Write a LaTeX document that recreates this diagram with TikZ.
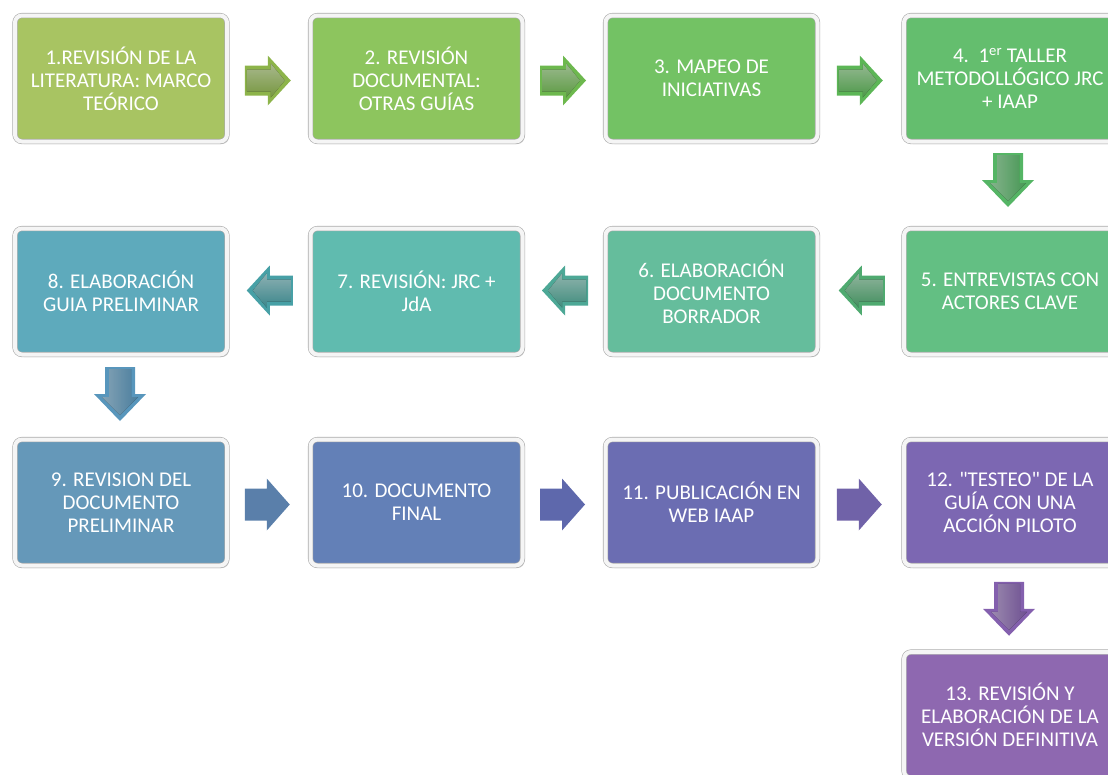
\documentclass[tikz,border=0pt]{standalone}
\usepackage{fontspec}
\setmainfont{Carlito}[Ligatures=TeXOff]
\usetikzlibrary{shadows,calc}
\definecolor{c1}{HTML}{A8C462}
\definecolor{c2}{HTML}{8DC55E}
\definecolor{c3}{HTML}{73C264}
\definecolor{c4}{HTML}{64BE6E}
\definecolor{c5}{HTML}{63BF83}
\definecolor{c6}{HTML}{65BD9C}
\definecolor{c7}{HTML}{60BBAF}
\definecolor{c8}{HTML}{5EAABC}
\definecolor{c9}{HTML}{6598B9}
\definecolor{c10}{HTML}{6380B7}
\definecolor{c11}{HTML}{6B6DB2}
\definecolor{c12}{HTML}{7C67B2}
\definecolor{c13}{HTML}{8E68B0}
\definecolor{a1}{HTML}{8DB44A}
\definecolor{a2}{HTML}{6DB84E}
\definecolor{a3}{HTML}{5CB656}
\definecolor{a4}{HTML}{55B565}
\definecolor{a5}{HTML}{4FAA70}
\definecolor{a6}{HTML}{4DA896}
\definecolor{a7}{HTML}{47A0A6}
\definecolor{a8}{HTML}{5896BC}
\definecolor{a9}{HTML}{5A7FAA}
\definecolor{a10}{HTML}{5E68AC}
\definecolor{a11}{HTML}{7062A8}
\definecolor{a12}{HTML}{8460AE}
\tikzset{
  stepbox/.style={rectangle, rounded corners=7pt, minimum width=212pt, minimum height=126pt,
    inner sep=0pt, align=center, text=white, font=\fontsize{21}{23}\selectfont,
    fill=#1, draw=gray!65, double=gray!8, double distance=4pt, line width=0.6pt,
    drop shadow={shadow xshift=2pt, shadow yshift=-2.5pt, opacity=0.35}},
  pics/rarr/.style 2 args={code={
    \fill[#1] (-23,-15) -- (0,-15) -- (0,-25) -- (23,0) -- (0,25) -- (0,15) -- (-23,15) -- cycle;
    \fill[top color=#1!45!white, bottom color=#1, opacity=#2]
      (-21,-11) -- (3,-11) -- (3,-17) -- (17,0) -- (3,17) -- (3,11) -- (-21,11) -- cycle;
  }},
  pics/larr/.style 2 args={code={
    \fill[#1] (23,-15) -- (0,-15) -- (0,-25) -- (-23,0) -- (0,25) -- (0,15) -- (23,15) -- cycle;
    \fill[top color=#1!45!white, bottom color=#1, opacity=#2]
      (21,-11) -- (-3,-11) -- (-3,-17) -- (-17,0) -- (-3,17) -- (-3,11) -- (21,11) -- cycle;
  }},
  pics/darr/.style 2 args={code={
    \fill[#1] (-15,-27) -- (-15,0) -- (-26,0) -- (0,27) -- (26,0) -- (15,0) -- (15,-27) -- cycle;
    \fill[left color=#1!55!white, right color=#1, opacity=#2]
      (-11,-25) -- (-11,3) -- (-18,3) -- (0,21) -- (18,3) -- (11,3) -- (11,-25) -- cycle;
  }},
  pics/rflat/.style={code={
    \fill[#1] (-22,-16) -- (0,-16) -- (0,-26) -- (23,0) -- (0,26) -- (0,16) -- (-22,16) -- cycle;
  }}
}
\begin{document}
\begin{tikzpicture}[x=1pt,y=-1pt]
\useasboundingbox (0,0) rectangle (1108,774);
\clip (0,0) rectangle (1108,774);
% row 1
\node[stepbox=c1] (b1) at (121,78.5) {1.REVISIÓN DE LA\\LITERATURA: MARCO\\TEÓRICO};
\node[stepbox=c2] (b2) at (416.5,78.5) {2. REVISIÓN\\DOCUMENTAL:\\OTRAS GUÍAS};
\node[stepbox=c3] (b3) at (711.5,78.5) {3. MAPEO DE\\INICIATIVAS};
\node[stepbox=c4] (b4) at (1010,78.5) {4.\ \ 1\textsuperscript{er} TALLER\\METODOLLÓGICO JRC\\+ IAAP};
% row 2
\node[stepbox=c5] (b5) at (1010,291.5) {5. ENTREVISTAS CON\\ACTORES CLAVE};
\node[stepbox=c6] (b6) at (711.5,291.5) {6. ELABORACIÓN\\DOCUMENTO\\BORRADOR};
\node[stepbox=c7] (b7) at (416.5,291.5) {7. REVISIÓN: JRC +\\JdA};
\node[stepbox=c8] (b8) at (121,291.5) {8. ELABORACIÓN\\GUIA PRELIMINAR};
% row 3
\node[stepbox=c9] (b9) at (121,502.5) {9. REVISION DEL\\DOCUMENTO\\PRELIMINAR};
\node[stepbox=c10] (b10) at (416.5,502.5) {10. DOCUMENTO\\FINAL};
\node[stepbox=c11] (b11) at (711.5,502.5) {11. PUBLICACIÓN EN\\WEB IAAP};
\node[stepbox=c12] (b12) at (1010,502.5) {12. "TESTEO" DE LA\\GUÍA CON UNA\\ACCIÓN PILOTO};
\node[stepbox=c13] (b13) at (1010,715) {13. REVISIÓN Y\\ELABORACIÓN DE LA\\VERSIÓN DEFINITIVA};
% arrows
\pic at ($(b1.east)!0.5!(b2.west)+(-1,2)$) {rarr={a1}{0.8}};
\pic at ($(b2.east)!0.5!(b3.west)+(-1,2)$) {rarr={a2}{0.8}};
\pic at ($(b3.east)!0.5!(b4.west)+(-1,2)$) {rarr={a3}{0.8}};
\pic at ($(b4.south)!0.5!(b5.north)+(-2,-5)$) {darr={a4}{0.8}};
\pic at ($(b5.west)!0.5!(b6.east)+(1,-1)$) {larr={a5}{0.8}};
\pic at ($(b6.west)!0.5!(b7.east)+(1,-1)$) {larr={a6}{0.8}};
\pic at ($(b7.west)!0.5!(b8.east)+(1,-1)$) {larr={a7}{0.8}};
\pic at ($(b8.south)!0.5!(b9.north)+(-1,-3)$) {darr={a8}{0.8}};
\pic at ($(b9.east)!0.5!(b10.west)+(-2,2)$) {rflat={a9}};
\pic at ($(b10.east)!0.5!(b11.west)+(-2,2)$) {rflat={a10}};
\pic at ($(b11.east)!0.5!(b12.west)+(-2,2)$) {rflat={a11}};
\pic at ($(b12.south)!0.5!(b13.north)+(-1,0)$) {darr={a12}{0.8}};
\end{tikzpicture}
\end{document}
